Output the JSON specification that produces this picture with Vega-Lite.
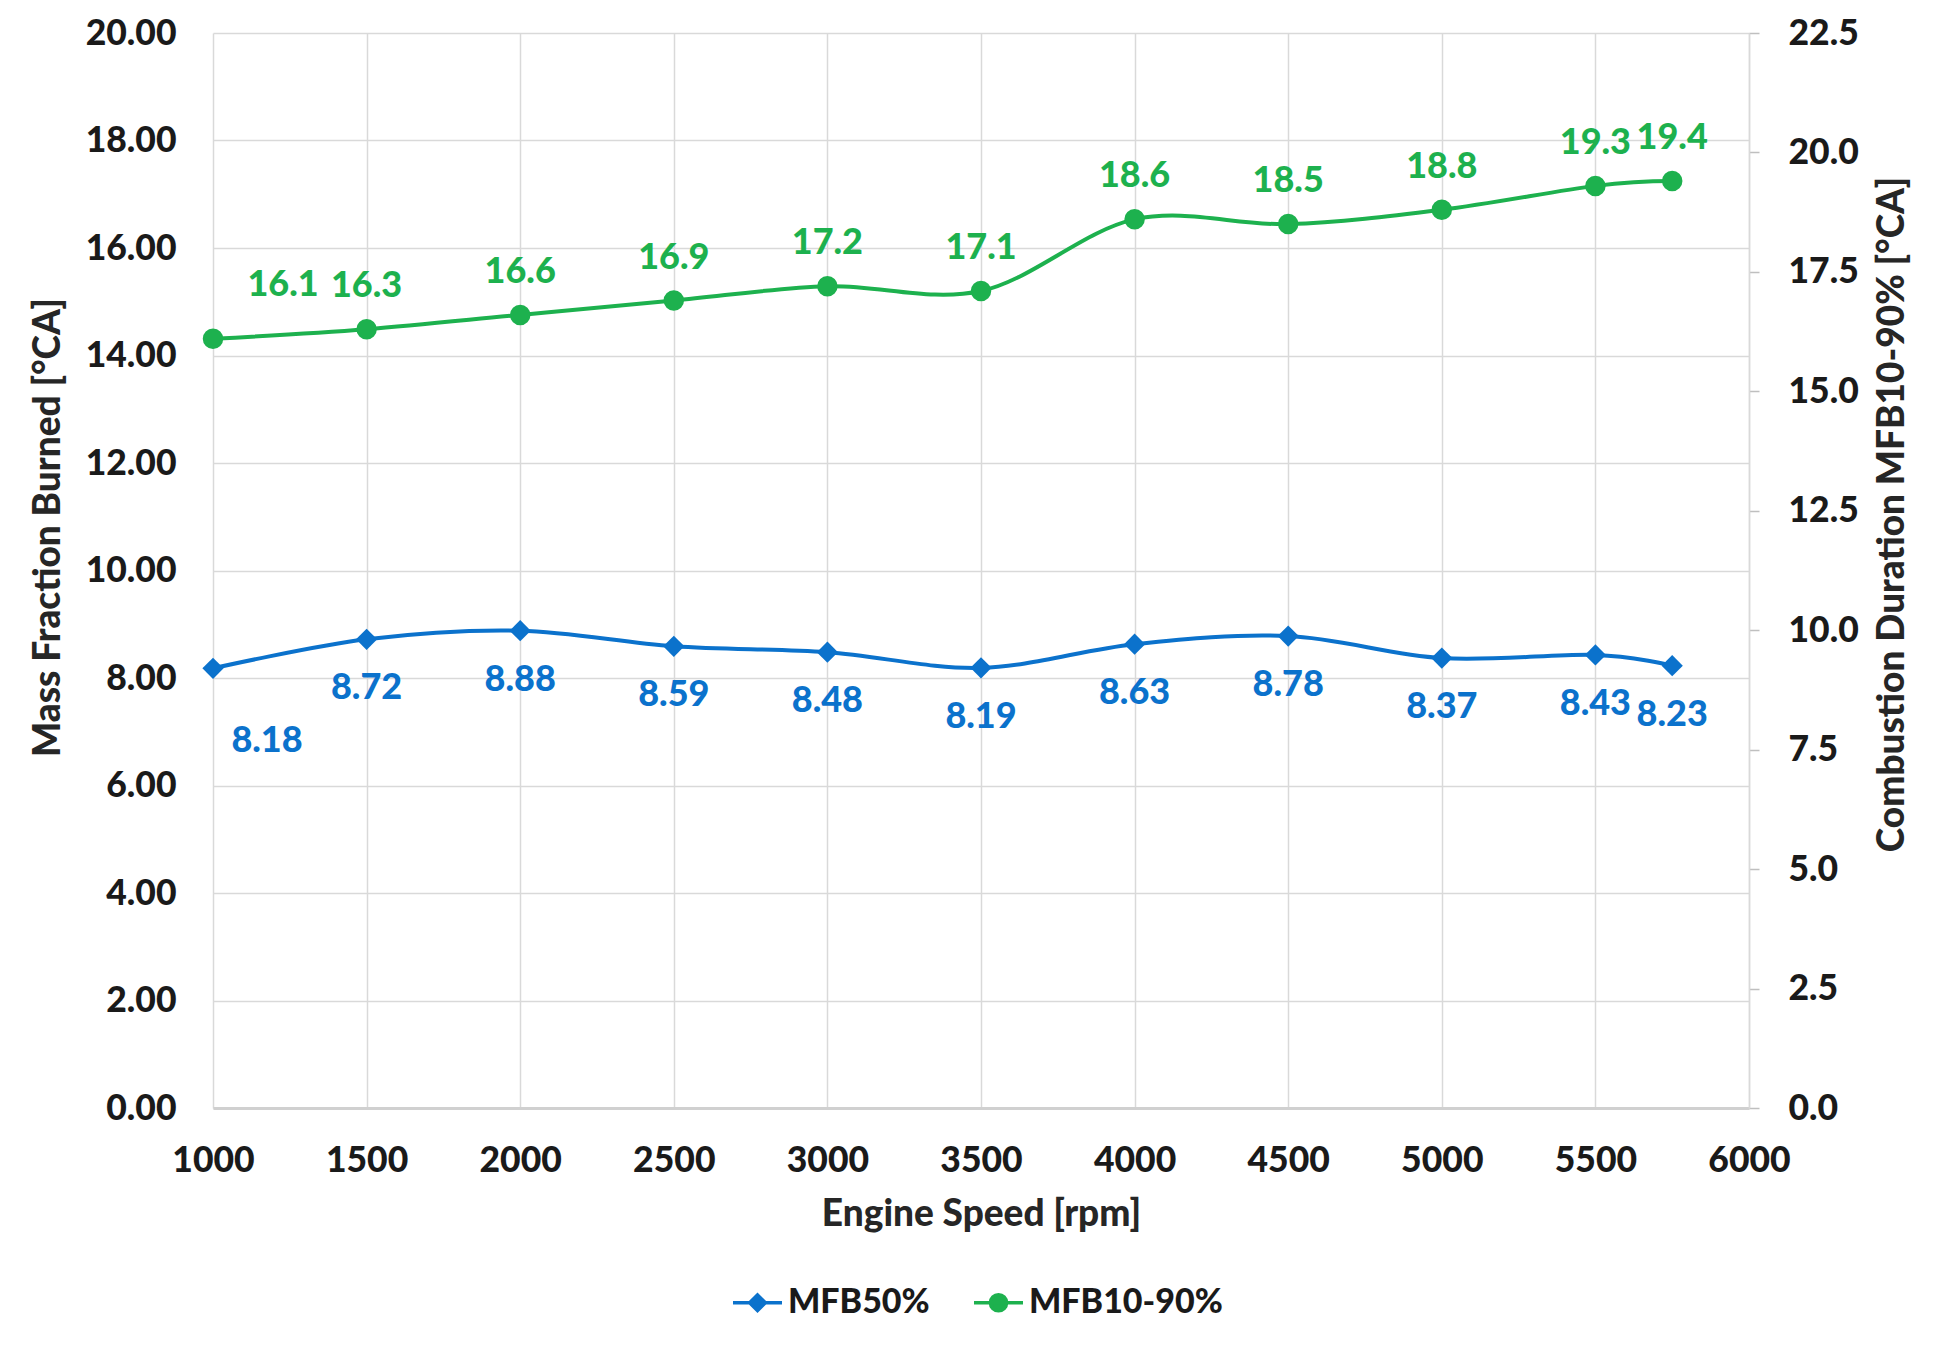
{
  "$schema": "https://vega.github.io/schema/vega-lite/v6.json",
  "width": 1536,
  "height": 1075,
  "autosize": {"type": "none"},
  "padding": {"left": 213, "top": 33, "right": 185, "bottom": 240},
  "background": "white",
  "config": {
    "font": "Lato",
    "view": {"stroke": null},
    "axis": {
      "labelFont": "Lato", "labelFontWeight": 900, "labelFontSize": 35.5, "labelColor": "#1a1a1a",
      "titleFont": "Lato", "titleFontWeight": 900, "titleFontSize": 37, "titleColor": "#262626",
      "gridColor": "#d9d9d9", "gridWidth": 1.5, "domain": false, "ticks": false
    },
    "legend": {"labelFont": "Lato", "labelFontWeight": 900, "labelFontSize": 34, "labelColor": "#1a1a1a", "labelLimit": 600}
  },
  "data": {
    "values": [
      {"speed": 1000, "mfb50": 8.18, "mfb1090": 16.1},
      {"speed": 1500, "mfb50": 8.72, "mfb1090": 16.3},
      {"speed": 2000, "mfb50": 8.88, "mfb1090": 16.6},
      {"speed": 2500, "mfb50": 8.59, "mfb1090": 16.9},
      {"speed": 3000, "mfb50": 8.48, "mfb1090": 17.2},
      {"speed": 3500, "mfb50": 8.19, "mfb1090": 17.1},
      {"speed": 4000, "mfb50": 8.63, "mfb1090": 18.6},
      {"speed": 4500, "mfb50": 8.78, "mfb1090": 18.5},
      {"speed": 5000, "mfb50": 8.37, "mfb1090": 18.8},
      {"speed": 5500, "mfb50": 8.43, "mfb1090": 19.3},
      {"speed": 5750, "mfb50": 8.23, "mfb1090": 19.4}
    ]
  },
  "encoding": {
    "x": {
      "field": "speed", "type": "quantitative",
      "scale": {"domain": [1000, 6000], "nice": false, "zero": false},
      "axis": {
        "title": "Engine Speed [rpm]",
        "values": [1000, 1500, 2000, 2500, 3000, 3500, 4000, 4500, 5000, 5500, 6000],
        "format": "d", "grid": true, "domain": true, "domainColor": "#d0d0d0", "domainWidth": 3,
        "labelPadding": 35, "titlePadding": 18, "labelFlush": false
      }
    }
  },
  "layer": [
    {
      "encoding": {
        "y": {
          "field": "mfb50", "type": "quantitative",
          "scale": {"domain": [0, 20], "nice": false},
          "axis": {
            "orient": "left", "title": "Mass Fraction Burned [°CA]",
            "values": [0, 2, 4, 6, 8, 10, 12, 14, 16, 18, 20], "format": ".2f",
            "grid": true, "labelPadding": 37, "titlePadding": 18, "titleY": 494
          }
        }
      },
      "layer": [
        {
          "mark": {"type": "line", "interpolate": "cardinal", "strokeWidth": 4},
          "encoding": {
            "color": {
              "datum": "MFB50%", "type": "nominal",
              "scale": {"domain": ["MFB50%", "MFB10-90%"], "range": ["#0B72CC", "#1DB14E"]},
              "legend": {
                "orient": "none", "legendX": 518, "legendY": 1243, "direction": "horizontal", "title": null,
                "symbolSize": 2400, "labelOffset": 4, "columnPadding": 37,
                "encode": {
                  "symbols": {
                    "update": {
                      "shape": {"signal": "datum.value === 'MFB50%' ? 'M-1,0H1M0,-0.32L0.32,0L0,0.32L-0.32,0Z' : 'M-1,0H1M-0.33,0A0.33,0.33 0 1,0 0.33,0A0.33,0.33 0 1,0 -0.33,0Z'"},
                      "fill": {"signal": "datum.value === 'MFB50%' ? '#0B72CC' : '#1DB14E'"},
                      "stroke": {"signal": "datum.value === 'MFB50%' ? '#0B72CC' : '#1DB14E'"},
                      "strokeWidth": {"value": 3.5},
                      "size": {"value": 2400},
                      "opacity": {"value": 1},
                      "fillOpacity": {"value": 1}
                    }
                  }
                }
              }
            }
          }
        },
        {
          "mark": {"type": "point", "shape": "diamond", "filled": true, "size": 450, "opacity": 1, "color": "#0B72CC"}
        },
        {
          "transform": [{"filter": "datum.speed != 1000"}],
          "mark": {"type": "text", "dy": 49, "baseline": "middle", "fontSize": 36, "fontWeight": 900, "color": "#0B72CC", "font": "Lato"},
          "encoding": {"text": {"field": "mfb50", "type": "quantitative", "format": ".2f"}}
        },
        {
          "transform": [{"filter": "datum.speed == 1000"}],
          "mark": {"type": "text", "dx": 54, "dy": 73, "baseline": "middle", "fontSize": 36, "fontWeight": 900, "color": "#0B72CC", "font": "Lato"},
          "encoding": {"text": {"field": "mfb50", "type": "quantitative", "format": ".2f"}}
        }
      ]
    },
    {
      "encoding": {
        "y": {
          "field": "mfb1090", "type": "quantitative",
          "scale": {"domain": [0, 22.5], "nice": false},
          "axis": {
            "orient": "right", "title": "Combustion Duration MFB10-90% [°CA]",
            "values": [0, 2.5, 5, 7.5, 10, 12.5, 15, 17.5, 20, 22.5], "format": ".1f",
            "grid": false, "ticks": true, "tickColor": "#bfbfbf", "tickSize": 10, "tickWidth": 1.5,
            "domain": true, "domainColor": "#d9d9d9", "domainWidth": 1.5,
            "labelPadding": 29, "titlePadding": 16, "titleAngle": 270, "titleBaseline": "top", "titleY": 481
          }
        }
      },
      "layer": [
        {
          "mark": {"type": "line", "interpolate": "cardinal", "strokeWidth": 4},
          "encoding": {"color": {"datum": "MFB10-90%", "type": "nominal"}}
        },
        {
          "mark": {"type": "point", "shape": "circle", "filled": true, "size": 420, "opacity": 1, "color": "#1DB14E"}
        },
        {
          "transform": [{"filter": "datum.speed != 1000"}],
          "mark": {"type": "text", "dy": -43, "baseline": "middle", "fontSize": 36, "fontWeight": 900, "color": "#1DB14E", "font": "Lato"},
          "encoding": {"text": {"field": "mfb1090", "type": "quantitative", "format": ".1f"}}
        },
        {
          "transform": [{"filter": "datum.speed == 1000"}],
          "mark": {"type": "text", "dx": 70, "dy": -54, "baseline": "middle", "fontSize": 36, "fontWeight": 900, "color": "#1DB14E", "font": "Lato"},
          "encoding": {"text": {"field": "mfb1090", "type": "quantitative", "format": ".1f"}}
        }
      ]
    }
  ],
  "resolve": {"scale": {"y": "independent"}, "axis": {"y": "independent"}}
}
